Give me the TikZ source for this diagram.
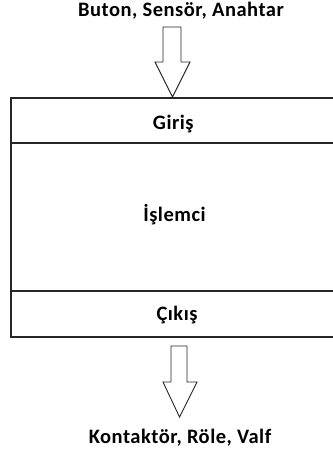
\documentclass[tikz,border=0pt]{standalone}
\usepackage{fontspec}
\setmainfont{Carlito}[LetterSpace=2.5]
\begin{document}
\begin{tikzpicture}[x=1pt,y=-1pt,
  lbl/.style={font=\bfseries\fontsize{20.5}{23}\selectfont, text=black, inner sep=0pt, anchor=base},
  frame/.style={draw=black!85, line width=1.3pt},
  blockarrow/.style={draw=black!85, line width=0.9pt, fill=white, line join=miter}]
\useasboundingbox (0,0) rectangle (332,452);
% texts
\node[lbl] (inp) at (181,16.7) {Buton, Sensör, Anahtar};
\node[lbl] (giris) at (173.3,129.3) {Giriş};
\node[lbl] (islem) at (174.5,221.7) {İşlemci};
\node[lbl] (cikis) at (177,320) {Çıkış};
\node[lbl] (out) at (180,443.3) {Kontaktör, Röle, Valf};
% frame
\draw[frame] (340,98) -- (11,98) -- (11,337) -- (340,337);
\draw[frame] (11,143) -- (340,143);
\draw[frame] (11,291) -- (340,291);
% top block arrow
\draw[blockarrow] (163,27) -- (181,27) -- (181,62) -- (190,62) -- (172.5,97) -- (155,62) -- (163,62) -- cycle;
% bottom block arrow
\draw[blockarrow] (171,346) -- (187,346) -- (187,382) -- (197,382) -- (179.5,417) -- (163,382) -- (171,382) -- cycle;
\end{tikzpicture}
\end{document}
